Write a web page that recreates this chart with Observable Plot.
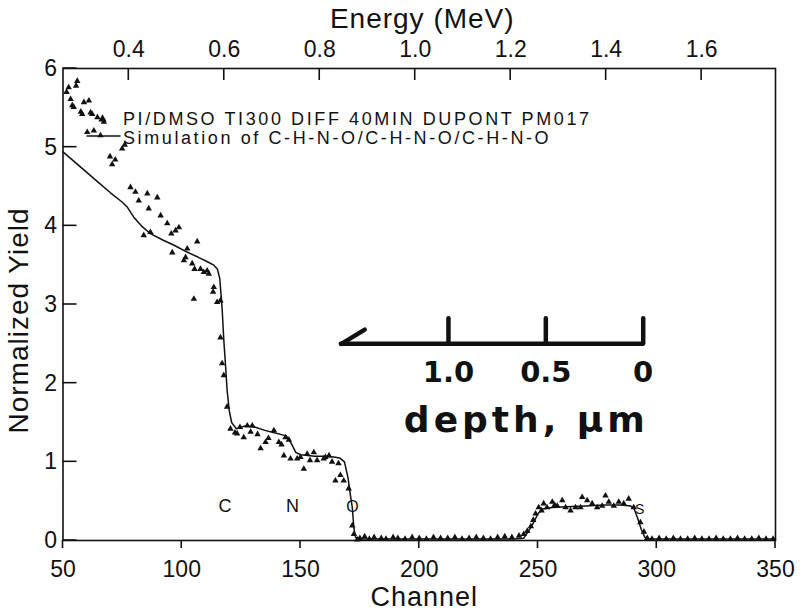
<!DOCTYPE html>
<html>
<head>
<meta charset="utf-8">
<script src="https://cdn.jsdelivr.net/npm/d3@7"></script>
<script src="https://cdn.jsdelivr.net/npm/@observablehq/plot@0.6"></script>
<style>
  html, body { margin: 0; padding: 0; background: #fff; }
</style>
</head>
<body>
<div id="chart"></div>
<script>
// RBS spectrum: measured yield (triangles) and simulated C-H-N-O multilayer (line)
const measuredChannel = [
  51.5, 52.4, 53.2, 53.9, 54.5, 55.5, 56.0, 57.5, 58.1, 58.8, 60.2, 60.9, 61.6, 62.3, 63.0, 64.5, 65.8, 67.2,
  69.8, 70.7, 72.0, 74.9, 76.0, 78.4, 80.5, 81.9, 84.0, 85.5, 86.1, 86.8, 89.7, 91.1, 93.9, 95.6, 96.0, 97.4,
  98.8, 100.9, 101.6, 102.3, 104.4, 105.1, 105.4, 106.5, 107.9, 109.3, 110.7, 111.4, 113.2, 113.5, 114.9, 116.3,
  116.3, 117.0, 117.7, 119.1, 120.5, 122.4, 123.3, 124.5, 126.1, 127.6, 129.0, 129.7, 131.9, 133.2, 135.3, 136.5,
  138.8, 140.9, 142.0, 143.0, 143.7, 145.1, 145.8, 148.6, 150.0, 151.4, 152.8, 154.0, 155.6, 157.0, 159.8, 160.5,
  162.0, 163.3, 164.7, 166.0, 166.8, 168.2, 170.3, 171.8, 172.5, 173.9,
  175, 177, 179, 181, 184, 186, 189, 191, 194, 197, 200, 203, 206, 209, 212, 215, 218, 221, 224, 227, 230, 233,
  236, 239, 242, 244, 245.5, 247, 248,
  249, 250.3, 251.5, 252.4, 253.8, 256, 257, 258.1, 260.2, 261.6, 263.7, 265.8, 267.9, 268.6, 270.7, 272.8,
  274.9, 277, 278.4, 279.8, 281.9, 284, 286.1, 288.2, 290.3, 293.1, 294.6, 296,
  298, 301, 304, 307, 310, 313, 316, 319, 322, 325, 328, 331, 334, 337, 340, 343, 346, 349
];
const measuredYield = [
  5.70, 5.76, 5.61, 5.53, 5.51, 5.78, 5.84, 5.45, 5.42, 5.57, 5.19, 5.59, 5.44, 5.42, 5.21, 5.38, 5.15, 5.32,
  4.88, 4.78, 4.84, 4.98, 5.03, 4.49, 4.43, 4.32, 3.88, 4.41, 4.22, 3.92, 4.36, 4.13, 4.03, 3.90, 3.66, 3.94,
  3.98, 3.56, 3.60, 3.71, 3.52, 3.07, 3.45, 3.80, 3.45, 3.41, 3.43, 3.39, 3.16, 3.22, 3.03, 3.05,
  2.58, 2.25, 2.10, 1.70, 1.42, 1.37, 1.36, 1.44, 1.31, 1.46, 1.38, 1.46, 1.35, 1.17, 1.25, 1.30,
  1.40, 1.25, 1.22, 1.08, 1.31, 1.28, 1.04, 1.04, 1.06, 0.91, 1.10, 1.02, 1.12, 1.02, 1.04, 1.06,
  1.08, 1.00, 0.76, 0.98, 0.83, 0.76, 0.66, 0.19, 0.08, 0.01,
  0.03, 0.05, 0.02, 0.04, 0.03, 0.02, 0.04, 0.03, 0.02, 0.04, 0.03, 0.02, 0.04, 0.03, 0.03, 0.04, 0.02, 0.03,
  0.04, 0.03, 0.02, 0.04, 0.05, 0.04, 0.06, 0.08, 0.12, 0.18, 0.26,
  0.34, 0.42, 0.38, 0.47, 0.42, 0.49, 0.45, 0.44, 0.51, 0.42, 0.38, 0.42, 0.42, 0.55, 0.51, 0.47,
  0.42, 0.44, 0.57, 0.49, 0.44, 0.49, 0.47, 0.53, 0.42, 0.23, 0.11, 0.03,
  0.02, 0.03, 0.02, 0.03, 0.02, 0.02, 0.03, 0.02, 0.02, 0.03, 0.02, 0.02, 0.03, 0.02, 0.02, 0.03, 0.02, 0.02
];

const simChannel = [
  50, 55, 60, 65, 70, 75, 77, 79.8, 83, 86.8, 92, 97, 102, 107, 111, 113.5, 115, 116, 117, 117.7, 118.5, 119.1,
  120, 121, 123, 127, 131, 135, 139, 144, 146, 148, 150, 156, 160, 164, 166.5, 168.5, 170, 171, 171.8, 172.5,
  173.2, 175, 190, 210, 230, 240, 244, 246, 248, 250, 252, 256, 262, 270, 278, 285, 289, 290.5, 292, 293.5,
  295, 297, 320, 350
];
const simYield = [
  4.94, 4.81, 4.68, 4.55, 4.42, 4.30, 4.24, 4.11, 4.00, 3.90, 3.82, 3.75, 3.67, 3.60, 3.54, 3.50, 3.45, 3.33, 2.95, 2.55, 2.20, 1.91,
  1.65, 1.50, 1.42, 1.46, 1.44, 1.40, 1.37, 1.33, 1.24, 1.12, 1.09, 1.07, 1.07, 1.06, 1.05, 1.00, 0.80, 0.58, 0.42, 0.15,
  0.04, 0.02, 0.02, 0.02, 0.02, 0.02, 0.03, 0.12, 0.22, 0.34, 0.40, 0.42, 0.43, 0.44, 0.45, 0.45, 0.44, 0.40, 0.28, 0.14,
  0.04, 0.02, 0.02, 0.02
];

const channelTicks = [50, 100, 150, 200, 250, 300, 350];
const yieldTicks = [0, 1, 2, 3, 4, 5, 6];
const energyTicks = [0.4, 0.6, 0.8, 1.0, 1.2, 1.4, 1.6];

const edgeLabels = ["C", "N", "O", "S"];
const edgeChannel = [118.2, 146.6, 171.9, 292.8];
const edgeYield = [0.43, 0.43, 0.43, 0.40];

const depthTicks = [1.0, 0.5, 0];
const depthTickLabels = ["1.0", "0.5", "0"];
const depthTail = 1.55;

const legendLabels = [
  "PI/DMSO TI300 DIFF 40MIN DUPONT PM017",
  "Simulation of C-H-N-O/C-H-N-O/C-H-N-O"
];

// energy calibration of the detector: 0.4 MeV at channel 77.7, 40.2 channels per 0.2 MeV
const energyToChannel = e => 77.7 + (e - 0.4) / 0.2 * 40.2;
// sulfur surface edge at channel 294.3, about 82 channels per micrometre of depth
const depthToChannel = d => 294.3 - 82 * d;

const measured = measuredChannel.map((c, i) => ({channel: c, yield: measuredYield[i]}));
const simulated = simChannel.map((c, i) => ({channel: c, yield: simYield[i]}));
const edges = edgeLabels.map((t, i) => ({label: t, channel: edgeChannel[i], yield: edgeYield[i]}));

const energyTickChannels = energyTicks.map(energyToChannel);
const energyLabelOf = new Map(energyTicks.map((e, i) => [energyTickChannels[i], e.toFixed(1)]));

const ink = "#111";
const font = "'Liberation Sans', Arial, sans-serif";
const hand = "'DejaVu Sans', sans-serif";

// tick marks: inward on the left and top edges, outward on the bottom edge
function tickMarks(index, scales, values, dim) {
  const g = d3.create("svg:g").attr("stroke", ink).attr("stroke-width", 1.6);
  const left = dim.marginLeft, top = dim.marginTop, bottom = dim.height - dim.marginBottom;
  for (const v of yieldTicks) {
    const y = scales.y(v);
    g.append("line").attr("x1", left).attr("x2", left + 14).attr("y1", y).attr("y2", y);
  }
  for (const c of energyTickChannels) {
    const x = scales.x(c);
    g.append("line").attr("x1", x).attr("x2", x).attr("y1", top).attr("y2", top + 12);
  }
  for (const c of channelTicks) {
    const x = scales.x(c);
    g.append("line").attr("x1", x).attr("x2", x).attr("y1", bottom).attr("y2", bottom + 8);
  }
  return g.node();
}

// legend symbols drawn next to the two legend lines
function legendSymbols(index, scales, values, dim) {
  const g = d3.create("svg:g");
  const x0 = dim.marginLeft, y0 = dim.marginTop;
  g.append("path")
    .attr("d", d3.symbol(d3.symbolTriangle, 30)())
    .attr("transform", `translate(${x0 + 40},${y0 + 51})`)
    .attr("fill", ink);
  g.append("line")
    .attr("x1", x0 + 24).attr("x2", x0 + 58)
    .attr("y1", y0 + 68).attr("y2", y0 + 68)
    .attr("stroke", ink).attr("stroke-width", 1.5);
  return g.node();
}

const chart = Plot.plot({
  width: 801,
  height: 613,
  marginLeft: 62.5,
  marginRight: 26,
  marginTop: 68,
  marginBottom: 73,
  x: {domain: [50, 350]},
  y: {domain: [0, 6]},
  style: {fontFamily: font, fontSize: "23px", color: ink, background: "#fff", overflow: "visible"},
  marks: [
    Plot.frame({stroke: ink, strokeWidth: 1.6}),
    // tick labels
    Plot.axisX({ticks: channelTicks, tickSize: 8, tickPadding: 12, tickFormat: d => String(d), label: null, stroke: "none"}),
    Plot.axisY({ticks: yieldTicks, tickSize: 0, tickPadding: 6, tickFormat: d => String(d), label: null}),
    Plot.axisX({anchor: "top", ticks: energyTickChannels, tickSize: 0, tickPadding: 12, tickFormat: c => energyLabelOf.get(c), label: null}),
    tickMarks,

    // axis titles
    Plot.text(["Energy (MeV)"], {text: d => d, frameAnchor: "top", textAnchor: "middle", dx: 3, dy: -49, fontSize: 28, lineAnchor: "middle"}),
    Plot.text(["Channel"], {text: d => d, frameAnchor: "bottom", textAnchor: "middle", dx: 5, dy: 57, fontSize: 27, lineAnchor: "middle"}),
    Plot.text(["Normalized Yield"], {text: d => d, frameAnchor: "left", textAnchor: "middle", rotate: -90, dx: -44, dy: 16, fontSize: 28, lineAnchor: "middle"}),

    // simulation and measurement
    Plot.line(simulated, {x: "channel", y: "yield", stroke: ink, strokeWidth: 1.5}),
    Plot.dot(measured, {x: "channel", y: "yield", symbol: "triangle", r: 2.4, fill: ink, stroke: null}),

    // legend
    legendSymbols,
    Plot.text([legendLabels[0]], {text: d => d, frameAnchor: "top-left", textAnchor: "start", lineAnchor: "middle", dx: 60, dy: 51, fontSize: 18}),
    Plot.text([legendLabels[1]], {text: d => d, frameAnchor: "top-left", textAnchor: "start", lineAnchor: "middle", dx: 60, dy: 70, fontSize: 18}),

    // element surface edges
    Plot.text(edges.slice(0, 2), {x: "channel", y: "yield", text: "label", fontSize: 18}),
    Plot.text(edges.slice(2, 3), {x: "channel", y: "yield", text: "label", fontSize: 16}),
    Plot.text(edges.slice(3), {x: "channel", y: "yield", text: "label", fontSize: 14}),

    // depth scale for sulfur
    Plot.ruleY([2.5], {x1: depthToChannel(depthTail), x2: depthToChannel(0), stroke: ink, strokeWidth: 4.5, strokeLinecap: "round"}),
    Plot.link([depthTail], {x1: depthToChannel, y1: 2.5, x2: d => depthToChannel(d - 0.12), y2: 2.68, stroke: ink, strokeWidth: 4.5, strokeLinecap: "round"}),
    Plot.ruleX(depthTicks, {x: depthToChannel, y1: 2.5, y2: 2.82, stroke: ink, strokeWidth: 4.5, strokeLinecap: "round"}),
    Plot.text(depthTicks, {x: depthToChannel, y: 2.13, text: (d, i) => depthTickLabels[i], fontFamily: hand, fontWeight: "bold", fontSize: 29}),
    Plot.text(["depth, μm"], {text: d => d, x: () => depthToChannel(0.6), y: () => 1.53, fontFamily: hand, fontWeight: "bold", fontSize: 36})
  ]
});

document.getElementById("chart").appendChild(chart);

// letter spacing for the legend, titles and depth caption
d3.select(chart).selectAll("text").each(function () {
  const t = this.textContent;
  if (legendLabels.includes(t)) this.style.letterSpacing = "2.6px";
  if (t === "depth, μm") this.style.letterSpacing = "4px";
  if (t === "Energy (MeV)" || t === "Channel" || t === "Normalized Yield") this.style.letterSpacing = "1px";
});
</script>
</body>
</html>
